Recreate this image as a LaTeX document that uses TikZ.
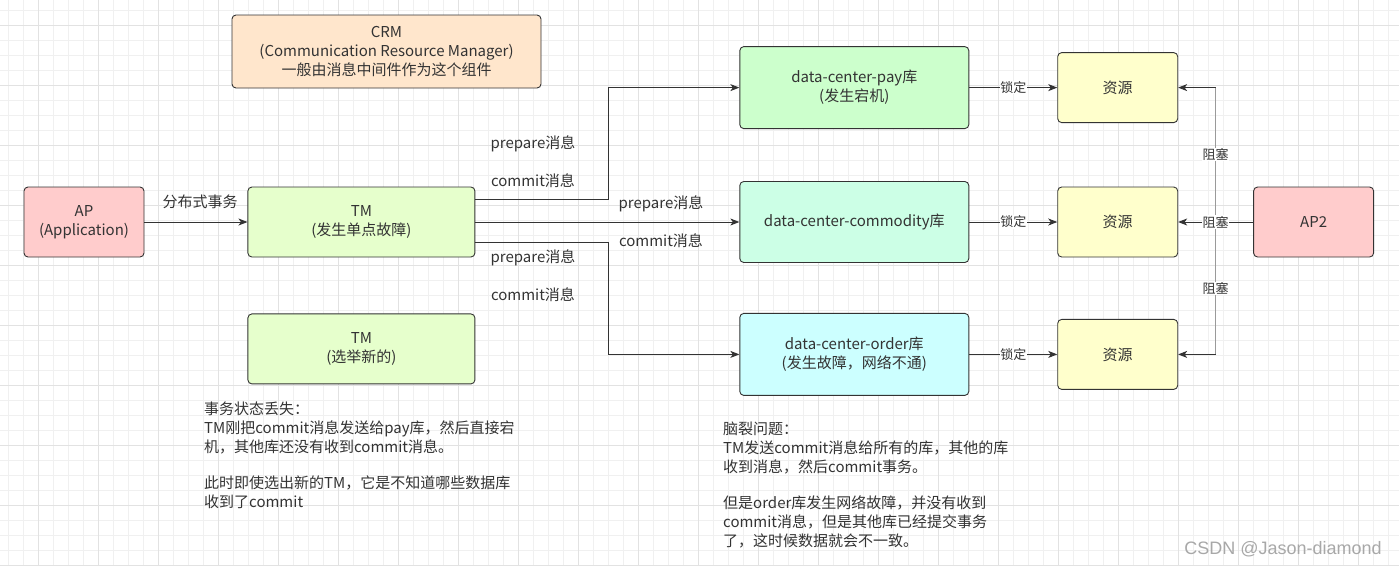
\documentclass[tikz,border=0pt]{standalone}
\usepackage{fontspec}
\setmainfont{Noto Sans CJK SC}
\newfontfamily\markfont{Liberation Sans}
\usetikzlibrary{arrows.meta, positioning}

\definecolor{ink}{HTML}{333333}
\definecolor{edge}{HTML}{333333}
\definecolor{minorgrid}{HTML}{F0F0F0}
\definecolor{majorgrid}{HTML}{E2E2E2}
\definecolor{crmfill}{HTML}{FFE6CC}
\definecolor{apfill}{HTML}{FFCCCC}
\definecolor{tmfill}{HTML}{E6FFCC}
\definecolor{payfill}{HTML}{CCFFCC}
\definecolor{commfill}{HTML}{CCFFE6}
\definecolor{orderfill}{HTML}{CCFFFF}
\definecolor{resfill}{HTML}{FFFFCC}
\definecolor{wiregray}{HTML}{9A9A9A}
\definecolor{markgray}{HTML}{A8A8A8}

\begin{document}
\begin{tikzpicture}[
    x=1pt, y=-1pt,
    font=\fontsize{15}{19}\selectfont, text=ink,
    flowbox/.style={rectangle, rounded corners=4pt, draw=edge, line width=0.9pt, align=center, inner sep=2pt},
    arrow/.style={-{Stealth[length=9pt, width=7pt, inset=2.5pt]}, line width=0.9pt, draw=edge},
    msg/.style={inner sep=1pt},
    tag/.style={fill=white, inner sep=0.5pt, font=\fontsize{13}{15}\selectfont},
    note/.style={anchor=north west, align=left, inner sep=0pt}
]

\useasboundingbox (0,0) rectangle (1399,566);
\fill[white] (0,0) rectangle (1399,566);

% grid
\foreach \x in {8.33,23.33,...,1399} \draw[minorgrid, line width=0.8pt] (\x,0) -- (\x,566);
\foreach \y in {10,25,...,566} \draw[minorgrid, line width=0.8pt] (0,\y) -- (1399,\y);
\foreach \x in {38.33,98.33,...,1399} \draw[majorgrid, line width=0.8pt] (\x,0) -- (\x,566);
\foreach \y in {25,85,...,566} \draw[majorgrid, line width=0.8pt] (0,\y) -- (1399,\y);

\node[flowbox, fill=crmfill, minimum width=309pt, minimum height=73pt] (crm) at (386.5,51.5) {CRM\\(Communication Resource Manager)\\一般由消息中间件作为这个组件};

\node[flowbox, fill=apfill, minimum width=120pt, minimum height=70pt] (ap) at (84,222) {AP\\(Application)};
\node[flowbox, fill=tmfill, minimum width=227pt, minimum height=70pt, right=103pt of ap] (tm) {TM\\(发生单点故障)};
\node[flowbox, fill=tmfill, minimum width=227pt, minimum height=70pt, below=56pt of tm] (tmnew) {TM\\(选举新的)};

\node[flowbox, fill=commfill, minimum width=229pt, minimum height=81pt, right=264pt of tm] (comm) {data-center-commodity库};
\node[flowbox, fill=payfill, minimum width=229pt, minimum height=82pt, above=52pt of comm] (pay) {data-center-pay库\\(发生宕机)};
\node[flowbox, fill=orderfill, minimum width=229pt, minimum height=82pt, below=50pt of comm] (order) {data-center-order库\\(发生故障，网络不通)};

\node[flowbox, fill=resfill, minimum width=120pt, minimum height=70pt, right=88pt of pay] (res1) {资源};
\node[flowbox, fill=resfill, minimum width=120pt, minimum height=70pt, right=88pt of comm] (res2) {资源};
\node[flowbox, fill=resfill, minimum width=120pt, minimum height=70pt, right=88pt of order] (res3) {资源};
\node[flowbox, fill=apfill, minimum width=120pt, minimum height=70pt, right=75pt of res2] (ap2) {AP2};

\draw[arrow] (ap) -- node[msg, pos=0.54, above=12pt] {分布式事务} (tm);

\draw[arrow] ([yshift=23pt]tm.east) -- ++(133,0) |- (pay.west);
\draw[arrow] (tm) -- (comm);
\draw[arrow] ([yshift=-20pt]tm.east) -- ++(133,0) |- (order.west);

\node[msg] (prep1) at (533,144) {prepare消息};
\node[msg] (comt1) at (533,181) {commit消息};
\node[msg] (prep2) at (661,204) {prepare消息};
\node[msg] (comt2) at (661,241) {commit消息};
\node[msg] (prep3) at (533,258) {prepare消息};
\node[msg] (comt3) at (533,295) {commit消息};

\draw[arrow] (pay) -- node[tag] {锁定} (res1);
\draw[arrow] (comm) -- node[tag] {锁定} (res2);
\draw[arrow] (order) -- node[tag] {锁定} (res3);

% AP2 blocks the three resources
\coordinate (fork) at ([xshift=-37.5pt]ap2.west);
\draw[arrow] (ap2.west) -- (fork) |- (res1.east);
\draw[arrow] (ap2.west) -- (fork) |- (res3.east);
\draw[wiregray, line width=1.2pt] (fork |- res1.east) -- (fork |- res3.east);
\draw[arrow] (ap2) -- node[tag] {阻塞} (res2);
\path (fork) |- node[tag, pos=0.25] {阻塞} (res1.east);
\path (fork) |- node[tag, pos=0.25] {阻塞} (res3.east);

\node[note] (lost) at (204,402) {事务状态丢失：\\TM刚把commit消息发送给pay库，然后直接宕\\机，其他库还没有收到commit消息。\\[17pt]此时即使选出新的TM，它是不知道哪些数据库\\收到了commit};
\node[note] (brain) at (723,422) {脑裂问题：\\TM发送commit消息给所有的库，其他的库\\收到消息，然后commit事务。\\[17pt]但是order库发生网络故障，并没有收到\\commit消息，但是其他库已经提交事务\\了，这时候数据就会不一致。};

\node[font=\markfont\fontsize{18}{20}\selectfont, text=markgray] (mark) at (1283,549) {CSDN @Jason-diamond};

\end{tikzpicture}
\end{document}
